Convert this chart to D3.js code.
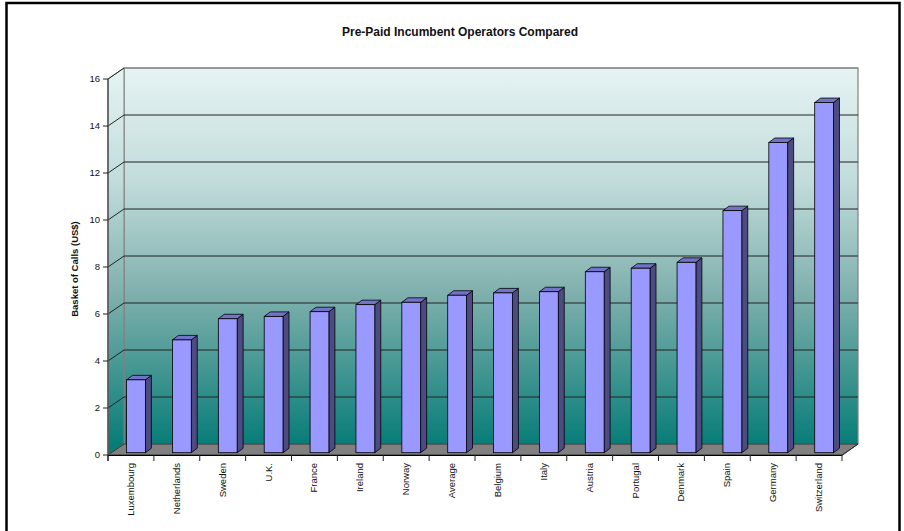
<!DOCTYPE html>
<html>
<head>
<meta charset="utf-8">
<script src="https://cdn.jsdelivr.net/npm/d3@7/dist/d3.min.js"></script>
<style>
  html, body { margin: 0; padding: 0; background: #fff; }
  svg { display: block; }
  text { font-family: "Liberation Sans", Arial, sans-serif; }
</style>
</head>
<body>
<svg id="chart" width="904" height="531"></svg>
<script>
// ---- data ----
const categories = ["Luxembourg","Netherlands","Sweden","U.K.","France","Ireland","Norway","Average","Belgium","Italy","Austria","Portugal","Denmark","Spain","Germany","Switzerland"];
const values = [3.1, 4.8, 5.7, 5.8, 6.0, 6.3, 6.4, 6.7, 6.8, 6.85, 7.7, 7.85, 8.1, 10.3, 13.2, 14.9];
const yTicks = [0, 2, 4, 6, 8, 10, 12, 14, 16];
const chartTitle = "Pre-Paid Incumbent Operators Compared";
const yTitle = "Basket of Calls (US$)";

// ---- layout ----
const svg = d3.select("#chart");
const pLeft = 108, pRight = 842, pBottom = 455, pTop = 79;
const DX = 16, DY = -11;        // depth of the 3D walls
const x = d3.scaleBand().domain(categories).range([pLeft, pRight]);
const y = d3.scaleLinear().domain([0, 16]).range([pBottom, pTop]);

// frame
svg.append("rect").attr("x", 6.5).attr("y", 3).attr("width", 893).attr("height", 540)
  .attr("fill", "none").attr("stroke", "#000").attr("stroke-width", 2.5);

// gradient
const defs = svg.append("defs");
const g = defs.append("linearGradient").attr("id", "wall").attr("gradientUnits", "userSpaceOnUse")
  .attr("x1", 0).attr("y1", y(16) + DY).attr("x2", 0).attr("y2", y(0) + DY);
g.append("stop").attr("offset", 0).attr("stop-color", "#e6f3f3");
g.append("stop").attr("offset", 0.3).attr("stop-color", "#c1dcdb");
g.append("stop").attr("offset", 0.6).attr("stop-color", "#7fb0ad");
g.append("stop").attr("offset", 1).attr("stop-color", "#087d78");

// back wall
svg.append("rect").attr("x", pLeft + DX).attr("y", y(16) + DY)
  .attr("width", pRight - pLeft).attr("height", y(0) - y(16))
  .attr("fill", "url(#wall)").attr("stroke", "#808080").attr("stroke-width", 1.2);
// side wall
svg.append("path")
  .attr("d", `M${pLeft},${y(16)} L${pLeft + DX},${y(16) + DY} L${pLeft + DX},${y(0) + DY} L${pLeft},${y(0)} Z`)
  .attr("fill", "url(#wall)").attr("stroke", "#808080").attr("stroke-width", 1);

// gridlines (back + side)
yTicks.filter(t => t > 0).forEach(t => {
  svg.append("line").attr("x1", pLeft + DX).attr("x2", pRight + DX)
    .attr("y1", y(t) + DY).attr("y2", y(t) + DY)
    .attr("stroke", t === 16 ? "#808080" : "#222").attr("stroke-width", 1);
  svg.append("line").attr("x1", pLeft).attr("x2", pLeft + DX)
    .attr("y1", y(t)).attr("y2", y(t) + DY)
    .attr("stroke", "#222").attr("stroke-width", 1);
});

// floor
svg.append("path")
  .attr("d", `M${pLeft},${y(0)} L${pLeft + DX},${y(0) + DY} L${pRight + DX},${y(0) + DY} L${pRight},${y(0)} Z`)
  .attr("fill", "#808080").attr("stroke", "#333").attr("stroke-width", 1);

// bars
const bw = x.bandwidth() * 0.41, boff = x.bandwidth() * 0.405;
const fdx = 0, fdy = -2.3;     // bar front offset in depth
const bdx = 6, bdy = -4.5;     // bar depth
const bars = svg.append("g");
categories.forEach((c, i) => {
  const x0 = x(c) + boff + fdx, x1 = x0 + bw;
  const yb = y(0) + fdy, yt = y(values[i]) + fdy;
  bars.append("path").attr("d", `M${x1},${yt} L${x1 + bdx},${yt + bdy} L${x1 + bdx},${yb + bdy} L${x1},${yb} Z`)
    .attr("fill", "#4c4c82").attr("stroke", "#000").attr("stroke-width", 0.8);
  bars.append("path").attr("d", `M${x0},${yt} L${x0 + bdx},${yt + bdy} L${x1 + bdx},${yt + bdy} L${x1},${yt} Z`)
    .attr("fill", "#7373c8").attr("stroke", "#000").attr("stroke-width", 0.8);
  bars.append("rect").attr("x", x0).attr("y", yt).attr("width", bw).attr("height", yb - yt)
    .attr("fill", "#9999ff").attr("stroke", "#000").attr("stroke-width", 0.8);
});

// y axis
svg.append("line").attr("x1", pLeft).attr("x2", pLeft).attr("y1", y(16)).attr("y2", y(0) + 6)
  .attr("stroke", "#555").attr("stroke-width", 1.5);
const yAxis = svg.append("g");
yTicks.forEach(t => {
  yAxis.append("line").attr("x1", pLeft - 5).attr("x2", pLeft).attr("y1", y(t)).attr("y2", y(t))
    .attr("stroke", "#222").attr("stroke-width", 1);
  yAxis.append("text").attr("x", pLeft - 8).attr("y", y(t)).attr("dy", "0.35em")
    .attr("text-anchor", "end").attr("font-size", 9.5).attr("fill", "#111").text(t);
});

// x axis
svg.append("line").attr("x1", pLeft).attr("x2", pRight).attr("y1", y(0) + 0.5).attr("y2", y(0) + 0.5)
  .attr("stroke", "#000").attr("stroke-width", 1.2);
svg.append("line").attr("x1", pRight).attr("x2", pRight + DX).attr("y1", y(0) + 0.5).attr("y2", y(0) + DY)
  .attr("stroke", "#333").attr("stroke-width", 1);
const bounds = categories.map(c => x(c)).concat([pRight]);
bounds.forEach(b => {
  svg.append("line").attr("x1", b).attr("x2", b).attr("y1", y(0)).attr("y2", y(0) + 6)
    .attr("stroke", "#222").attr("stroke-width", 1);
});
categories.forEach(c => {
  const cx = x(c) + x.bandwidth() / 2;
  svg.append("text").attr("transform", `translate(${cx + 3},${y(0) + 8}) rotate(-90)`)
    .attr("text-anchor", "end").attr("font-size", 9.5).attr("fill", "#111").text(c);
});

// titles
svg.append("text").attr("x", 460).attr("y", 36).attr("text-anchor", "middle")
  .attr("font-size", 12).attr("font-weight", "bold").attr("fill", "#111").text(chartTitle);
svg.append("text").attr("transform", `translate(78,269) rotate(-90)`).attr("text-anchor", "middle")
  .attr("font-size", 9.5).attr("font-weight", "bold").attr("fill", "#111").text(yTitle);
</script>
</body>
</html>
